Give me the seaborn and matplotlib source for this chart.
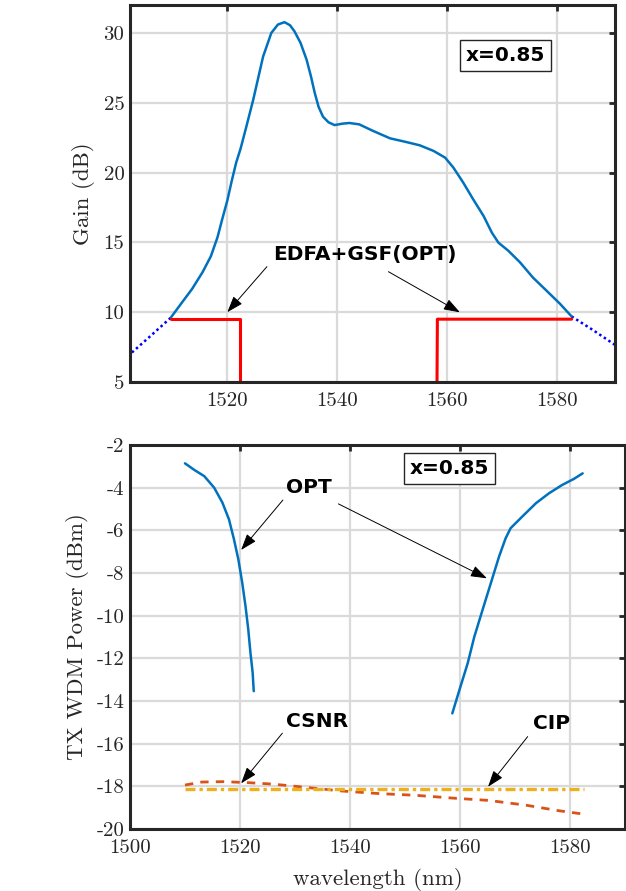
import matplotlib
matplotlib.use('Agg')
import matplotlib.pyplot as plt
import seaborn as sns

# ---- top panel: gain spectrum ----
gain_wl = [1509.8, 1511.9, 1513.7, 1515.6, 1517.1, 1518.3, 1519.2, 1520.1, 1520.9,
           1521.7, 1522.5, 1523.5, 1524.8, 1526.6, 1528.1, 1529.3, 1530.5, 1531.5,
           1532.3, 1533.4, 1534.5, 1535.3, 1536.0, 1536.7, 1537.5, 1538.5, 1539.6,
           1541.0, 1542.3, 1544.1, 1546.5, 1549.7, 1552.5, 1555.1, 1557.6, 1559.7,
           1561.2, 1563.0, 1564.8, 1566.7, 1568.2, 1569.4, 1571.2, 1573.3, 1575.7,
           1578.2, 1580.6, 1582.7]
gain_db = [9.6, 10.72, 11.67, 12.87, 14.0, 15.35, 16.7, 18.0, 19.4,
           20.7, 21.7, 23.2, 25.2, 28.3, 30.0, 30.6, 30.77, 30.55,
           30.12, 29.3, 28.1, 26.9, 25.7, 24.7, 24.0, 23.6, 23.4,
           23.5, 23.55, 23.45, 23.0, 22.45, 22.2, 21.95, 21.55, 21.07,
           20.36, 19.28, 18.09, 16.89, 15.7, 14.98, 14.4, 13.58, 12.47,
           11.52, 10.6, 9.7]
ext_left_wl = [1502.0, 1506.0, 1509.8]
ext_left_db = [6.85, 8.25, 9.6]
ext_right_wl = [1582.7, 1586.6, 1591.0]
ext_right_db = [9.7, 8.72, 7.55]
gsf_left_wl = [1509.8, 1522.4, 1522.4]
gsf_left_db = [9.5, 9.5, 3.0]
gsf_right_wl = [1558.2, 1558.3, 1582.7]
gsf_right_db = [3.0, 9.5, 9.5]

# ---- bottom panel: TX WDM power ----
opt1_wl = [1510.0, 1511.7, 1513.5, 1515.3, 1516.8, 1518.0, 1518.9, 1519.7, 1520.4,
           1521.0, 1521.5, 1521.9, 1522.3, 1522.5]
opt1_dbm = [-2.86, -3.17, -3.46, -4.0, -4.7, -5.49, -6.42, -7.36, -8.45,
            -9.55, -10.64, -11.74, -12.67, -13.54]
opt2_wl = [1558.6, 1559.9, 1561.4, 1562.6, 1564.1, 1565.6, 1567.1, 1568.3, 1569.2,
           1571.3, 1573.8, 1576.2, 1578.6, 1580.7, 1582.3]
opt2_dbm = [-14.58, -13.48, -12.23, -10.99, -9.73, -8.48, -7.23, -6.37, -5.9,
            -5.36, -4.73, -4.26, -3.87, -3.59, -3.33]
csnr_wl = [1510.0, 1513.0, 1517.0, 1521.7, 1525.6, 1529.0, 1532.0, 1538.6, 1545.3,
           1551.9, 1558.6, 1565.2, 1571.9, 1577.9, 1582.4]
csnr_dbm = [-17.94, -17.8, -17.78, -17.83, -17.89, -17.97, -18.05, -18.22, -18.34,
            -18.42, -18.55, -18.66, -18.88, -19.14, -19.3]
cip_wl = [1510.0, 1582.5]
cip_dbm = [-18.12, -18.12]

sns.set_style('white')
plt.rcParams['font.family'] = ['cmr10', 'DejaVu Serif']
plt.rcParams['axes.unicode_minus'] = False
plt.rcParams['mathtext.fontset'] = 'cm'

blue = '#0072BD'
orange = '#D95319'
yellow = '#EDB120'
spine_col = '#262626'
grid_col = '#dadada'

fig = plt.figure(figsize=(6.26, 8.91), dpi=100)
ax1 = fig.add_axes([130/626, 1-382/891, 485/626, 377/891])
ax2 = fig.add_axes([130/626, 1-829/891, 495/626, 384/891])


def style_axes(ax):
    ax.grid(True, color=grid_col, lw=1.6)
    ax.set_axisbelow(True)
    for s in ax.spines.values():
        s.set_color(spine_col)
        s.set_linewidth(2.2)
        s.set_visible(True)
    ax.tick_params(direction='in', length=4, width=2, color=spine_col,
                   top=True, right=True, labelsize=15, labelcolor='#262626')
    ax.tick_params(axis='x', pad=7)
    ax.tick_params(axis='y', pad=4)


bold = dict(family='DejaVu Sans', weight='bold', fontsize=14.5, color='black')
arrow = dict(arrowstyle='-|>,head_length=1.0,head_width=0.35', color='black',
             lw=0.7, shrinkA=0, shrinkB=0)

# top panel
sns.lineplot(x=ext_left_wl, y=ext_left_db, ax=ax1, color='#0000FF', lw=1.8,
             linestyle=(0, (1, 1.2)), estimator=None, sort=False)
sns.lineplot(x=ext_right_wl, y=ext_right_db, ax=ax1, color='#0000FF', lw=1.8,
             linestyle=(0, (1, 1.2)), estimator=None, sort=False)
sns.lineplot(x=gain_wl, y=gain_db, ax=ax1, color=blue, lw=1.8, estimator=None, sort=False)
sns.lineplot(x=gsf_left_wl, y=gsf_left_db, ax=ax1, color='#FF0000', lw=2.2,
             estimator=None, sort=False)
sns.lineplot(x=gsf_right_wl, y=gsf_right_db, ax=ax1, color='#FF0000', lw=2.2,
             estimator=None, sort=False)
ax1.set_xlim(1502.4, 1590.6)
ax1.set_ylim(5, 32)
ax1.set_xticks([1520, 1540, 1560, 1580])
ax1.set_yticks([5, 10, 15, 20, 25, 30])
style_axes(ax1)
ax1.set_ylabel('Gain (dB)', fontsize=16.5, color='#262626')
ax1.yaxis.set_label_coords(-0.072, 0.5)
ax1.set_xlabel('')

ax1.text(1545.1, 14.1, 'EDFA+GSF(OPT)', ha='center', va='center', **bold)
ax1.annotate('', xy=(1520.1, 10.0), xytext=(1527.3, 13.26), arrowprops=arrow)
ax1.annotate('', xy=(1562.4, 9.99), xytext=(1549.4, 12.9), arrowprops=arrow)
ax1.text(1570.7, 28.4, 'x=0.85', ha='center', va='center', **bold,
         bbox=dict(boxstyle='square,pad=0.3', fc='white', ec='#262626', lw=1.0))

# bottom panel
sns.lineplot(x=opt1_wl, y=opt1_dbm, ax=ax2, color=blue, lw=1.8, estimator=None, sort=False)
sns.lineplot(x=opt2_wl, y=opt2_dbm, ax=ax2, color=blue, lw=1.8, estimator=None, sort=False)
sns.lineplot(x=csnr_wl, y=csnr_dbm, ax=ax2, color=orange, lw=2.0,
             linestyle=(0, (3.0, 2.6)), estimator=None, sort=False)
sns.lineplot(x=cip_wl, y=cip_dbm, ax=ax2, color=yellow, lw=2.4,
             linestyle=(0, (3.0, 1.2, 1.0, 1.2)), estimator=None, sort=False)
ax2.set_xlim(1500, 1590)
ax2.set_ylim(-20, -2)
ax2.set_xticks([1500, 1520, 1540, 1560, 1580])
ax2.set_yticks(list(range(-20, -1, 2)))
style_axes(ax2)
ax2.set_ylabel('TX WDM Power (dBm)', fontsize=16.5, color='#262626')
ax2.yaxis.set_label_coords(-0.083, 0.5)
ax2.set_xlabel('wavelength (nm)', fontsize=16.5, color='#262626', labelpad=8)

ax2.text(1532.6, -3.97, 'OPT', ha='center', va='center', **bold)
ax2.annotate('', xy=(1520.2, -6.92), xytext=(1527.8, -4.58), arrowprops=arrow)
ax2.annotate('', xy=(1564.9, -8.25), xytext=(1537.9, -4.76), arrowprops=arrow)
ax2.text(1534.1, -14.97, 'CSNR', ha='center', va='center', **bold)
ax2.annotate('', xy=(1520.2, -17.86), xytext=(1527.7, -15.51), arrowprops=arrow)
ax2.text(1576.6, -15.05, 'CIP', ha='center', va='center', **bold)
ax2.annotate('', xy=(1565.1, -18.02), xytext=(1572.3, -15.67), arrowprops=arrow)
ax2.text(1558.1, -3.1, 'x=0.85', ha='center', va='center', **bold,
         bbox=dict(boxstyle='square,pad=0.3', fc='white', ec='#262626', lw=1.0))

fig.savefig('out.png', dpi=100)
